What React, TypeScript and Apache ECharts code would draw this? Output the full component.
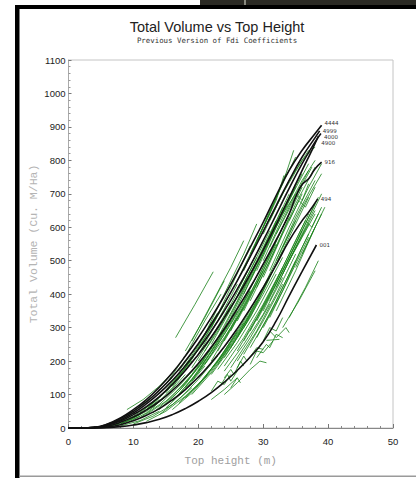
import React, { useEffect, useRef } from "react";
import * as echarts from "echarts";

const TITLE = "Total Volume vs Top Height";
const SUBTITLE = "Previous Version of Fdi Coefficients";
const X_NAME = "Top height (m)";
const Y_NAME = "Total Volume (Cu. M/Ha)";

const X_MIN = 0;
const X_MAX = 50;
const X_STEP = 10;
const Y_MIN = 0;
const Y_MAX = 1100;
const Y_STEP = 100;

// Black reference curves (Top height, Total volume)
const curveNames = ["4444", "4999", "4000", "4900", "916", "494", "001"];
const curveLabelOffsets = [-2, 0, 3, 7, 0, 0, 0];

const curve4444 = [[0,0],[2,0],[4,2],[6,12],[8,30],[10,55],[12,85],[14,122],[16,165],[18,215],[20,270],[22,330],[24,395],[26,465],[28,540],[30,615],[32,695],[34,770],[36,830],[38,880],[39,905]];
const curve4999 = [[0,0],[2,0],[4,2],[6,11],[8,28],[10,50],[12,78],[14,113],[16,153],[18,200],[20,252],[22,310],[24,372],[26,440],[28,512],[30,588],[32,665],[34,740],[36,810],[38,868],[38.7,888]];
const curve4000 = [[0,0],[2,0],[4,1],[6,9],[8,24],[10,45],[12,72],[14,104],[16,142],[18,186],[20,235],[22,290],[24,350],[26,415],[28,485],[30,560],[32,638],[34,716],[36,790],[38,855],[38.9,880]];
const curve4900 = [[0,0],[2,0],[4,1],[6,8],[8,21],[10,40],[12,64],[14,94],[16,130],[18,172],[20,220],[22,272],[24,330],[26,392],[28,460],[30,532],[32,608],[34,688],[36,770],[37.5,830],[38.5,872]];
const curve916 = [[0,0],[2,0],[4,1],[6,6],[8,17],[10,33],[12,54],[14,80],[16,112],[18,150],[20,193],[22,242],[24,296],[26,356],[28,420],[30,490],[32,562],[34,640],[35,690],[36,728],[37,745],[38,775],[39,795]];
const curve494 = [[0,0],[2,0],[4,0],[6,3],[8,10],[10,22],[12,38],[14,58],[16,84],[18,115],[20,152],[22,195],[24,243],[26,297],[28,357],[30,420],[32,488],[34,560],[36,620],[37,645],[38.4,685]];
const curve001 = [[0,0],[2,0],[4,0],[6,1],[8,4],[10,9],[12,16],[14,26],[16,40],[18,58],[20,80],[22,106],[24,137],[26,172],[28,212],[30,258],[32,320],[34,395],[36,468],[38.2,547]];

const blackCurves = [curve4444, curve4999, curve4000, curve4900, curve916, curve494, curve001];

// Green plot trajectories (Top height, Total volume)
const greenTrajectories = [
  [[7,10],[10,35],[13,75],[16,130]],
  [[8,12],[11,40],[14,85]],
  [[9,15],[12,45],[15,95],[18,160]],
  [[8,6],[11,22],[14,50]],
  [[10,12],[13,35],[16,70],[19,120]],
  [[11,30],[14,70],[17,125],[20,190]],
  [[12,20],[15,50],[18,95],[21,150]],
  [[12,55],[15,110],[18,180],[21,260]],
  [[13,60],[16,120],[19,200]],
  [[14,40],[17,85],[20,145],[23,215]],
  [[15,130],[18,215],[21,320],[23.5,400]],
  [[16.5,270],[19.5,370],[22.3,467]],
  [[18,230],[21,330],[24,440]],
  [[19,260],[22,370],[25,480],[27,560]],
  [[17,170],[20,250],[23,345]],
  [[20,220],[23,320],[26,430]],
  [[21,280],[24,400],[27,520],[29,610]],
  [[22,300],[25,420],[28,545]],
  [[27,470],[30,600],[33,730],[34.7,830]],
  [[26,440],[29,560],[32,680],[33.2,755]],
  [[28,520],[31,640],[33.5,760]],
  [[29,560],[32,690],[35,810]],
  [[30,580],[33,700],[36,800],[38,840]],
  [[31,620],[34,740],[37,830]],
  [[18,120],[21,190],[24,270],[27,360]],
  [[19,140],[22,220],[25,310],[28,410]],
  [[20,170],[23,260],[26,360]],
  [[21,190],[24,280],[27,380],[30,490]],
  [[22,200],[25,300],[28,410]],
  [[23,230],[26,330],[29,440],[32,560]],
  [[24,260],[27,360],[30,470]],
  [[25,290],[28,400],[31,520],[34,640]],
  [[23,190],[26,280],[29,380]],
  [[24,210],[27,300],[30,400],[33,510]],
  [[25,240],[28,340],[31,450]],
  [[26,270],[29,380],[32,500],[35,620]],
  [[27,300],[30,410],[33,530]],
  [[28,330],[31,450],[34,570],[37,690]],
  [[26,320],[29,430],[32,550]],
  [[27,350],[30,470],[33,600],[36,720]],
  [[28,380],[31,500],[34,630]],
  [[29,420],[32,540],[35,670],[38,780]],
  [[30,450],[33,580],[36,700]],
  [[31,470],[34,600],[37,720],[39,790]],
  [[32,500],[35,630],[38,740]],
  [[33,540],[36,660],[39,760]],
  [[20,130],[23,200],[26,290]],
  [[21,150],[24,230],[27,320],[30,420]],
  [[22,160],[25,240],[28,330]],
  [[24,170],[27,250],[30,340],[33,450]],
  [[25,180],[28,270],[31,370]],
  [[26,200],[29,290],[32,400],[35,520]],
  [[27,220],[30,320],[33,430]],
  [[28,240],[31,340],[34,460],[37,580]],
  [[29,270],[32,380],[35,500]],
  [[30,300],[33,410],[36,540],[38.5,640]],
  [[31,330],[34,450],[37,570]],
  [[32,350],[35,470],[38,600]],
  [[33,300],[35.5,380],[38,470]],
  [[34,330],[36.5,420],[38.5,500]],
  [[35,480],[37,560],[39,640]],
  [[36,520],[38,600],[39.5,660]],
  [[24,150],[25,175],[25.5,160],[26.5,200],[27,185]],
  [[26,180],[27,215],[27.5,200],[29,240],[30,235]],
  [[28,190],[29,230],[30,225],[31.5,260]],
  [[23.5,130],[24.5,160],[25,140],[26,170]],
  [[29,210],[30.5,250],[31,240],[32,280],[33,270]],
  [[25,120],[26,150],[26.5,135]],
  [[30,260],[31,300],[32,290],[33,330]],
  [[22,110],[23,140],[24,130],[25,160]],
  [[31,290],[32,270],[33.5,300],[34,285]],
  [[30.5,262],[32.5,265]],
  [[28,175],[29.5,200],[30.5,195]],
  [[33,640],[35,700],[36,680],[37,730]],
  [[34,620],[35.5,680],[36.5,660],[38,720]],
  [[35,560],[36.5,620],[37.5,600],[39,660]],
  [[5,2],[8,12],[11,35]],
  [[6,4],[9,20],[12,50],[15,95]],
  [[9,55],[11.5,85],[14,125],[16,165]],
  [[10,50],[13,95],[16,150]],
  [[13,45],[16,95],[19,160],[22,240]],
  [[14,55],[17,110],[20,180],[23,265]],
  [[15,70],[18,130],[21,210],[24,300]],
  [[16,80],[19,145],[22,230],[25,320]],
  [[17,100],[20,170],[23,255],[26,350]],
  [[15,60],[18,115],[21,185]],
  [[16,55],[19,105],[22,170],[25,250]],
  [[17,75],[20,130],[23,200],[26,285]],
  [[18,90],[21,150],[24,225],[27,315]],
  [[19,100],[22,165],[25,245],[28,340]],
  [[14,90],[17,160],[20,245],[23,340]],
  [[15,105],[18,180],[21,270],[24,370]],
  [[16,125],[19,205],[22,300],[25,405]],
  [[20,200],[23,290],[26,395],[29,510]],
  [[21,230],[24,330],[27,445],[30,560]],
  [[22,250],[25,355],[28,470],[31,590]],
  [[23,270],[26,380],[29,500],[32,620]],
  [[24,300],[27,415],[30,535],[33,660]],
  [[25,330],[28,450],[31,575],[34,700]],
  [[26,360],[29,485],[32,610],[35,730]],
  [[27,400],[30,520],[33,650],[36,760]],
  [[28,440],[31,560],[34,680],[37,790]],
  [[29,470],[32,600],[35,720]],
  [[30,500],[33,630],[36,740],[38,800]],
  [[31,540],[34,660],[37,770]],
  [[32,580],[35,690],[37.5,780]],
  [[23,175],[26,255],[29,350],[32,460]],
  [[24,185],[27,270],[30,370],[33,480]],
  [[26,230],[29,330],[32,440],[35,560]],
  [[27,260],[30,360],[33,470],[36,590]],
  [[28,290],[31,400],[34,520],[37,640]],
  [[29,320],[32,430],[35,550],[38,670]],
  [[30,350],[33,470],[36,590],[38.5,690]],
  [[31,380],[34,500],[37,610]],
  [[32,420],[35,540],[38,650]],
  [[33,460],[36,580],[39,700]],
  [[34,500],[36,570],[38,640]],
  [[19,180],[22,270],[25,370]],
  [[11,45],[14,90],[17,150]],
  [[12,40],[15,80],[18,135],[21,205]],
  [[22,85],[24,115],[26,150]],
  [[24,100],[26,135],[28,175]],
];

export default function App() {
  const ref = useRef<HTMLDivElement>(null);

  useEffect(() => {
    if (!ref.current) return;
    const chart = echarts.init(ref.current, null, { renderer: "svg" });

    const green = "rgba(25,130,25,0.8)";
    const greenSeries = greenTrajectories.map((pts, i) => ({
      type: "line",
      name: "plot" + i,
      data: pts,
      color: green,
      showSymbol: false,
      silent: true,
      z: 2,
      itemStyle: { color: green },
      lineStyle: { color: green, width: 1 },
    }));

    const blackSeries = blackCurves.map((pts, i) => ({
      type: "line",
      name: curveNames[i],
      data: pts,
      color: "#111",
      showSymbol: false,
      smooth: true,
      silent: true,
      z: 3,
      itemStyle: { color: "#111" },
      lineStyle: { color: "#111", width: 1.6 },
      endLabel: {
        show: true,
        formatter: curveNames[i],
        fontSize: 5.5,
        fontFamily: "DejaVu Sans",
        color: "#333",
        textBorderWidth: 0,
        distance: 3,
        offset: [0, curveLabelOffsets[i]],
      },
    }));

    chart.setOption({
      animation: false,
      backgroundColor: "#fff",
      title: [
        {
          text: TITLE,
          left: 212,
          top: 14,
          textAlign: "center",
          textStyle: { fontFamily: "Liberation Sans", fontSize: 14.5, fontWeight: "normal", color: "#222" },
        },
        {
          text: SUBTITLE,
          left: 212,
          top: 32,
          textAlign: "center",
          textStyle: { fontFamily: "DejaVu Sans Mono", fontSize: 7.4, fontWeight: "normal", color: "#333" },
        },
      ],
      grid: {
        left: 68.5,
        right: 23,
        top: 60,
        bottom: 50,
        show: true,
        borderColor: "#c4c4c4",
        borderWidth: 1,
      },
      xAxis: {
        type: "value",
        min: X_MIN,
        max: X_MAX,
        interval: X_STEP,
        name: X_NAME,
        nameLocation: "middle",
        nameGap: 27,
        nameTextStyle: { fontFamily: "Liberation Mono", fontSize: 11, color: "#a0a0a0" },
        axisLine: { lineStyle: { color: "#888", width: 1 } },
        axisTick: { show: true, inside: true, length: 4, lineStyle: { color: "#777" } },
        minorTick: { show: true, splitNumber: 5, length: 2, lineStyle: { color: "#888" } },
        axisLabel: { fontFamily: "Liberation Sans", fontSize: 9.5, color: "#222", margin: 8, formatter: (v: number) => String(v) },
        splitLine: { show: false },
      },
      yAxis: {
        type: "value",
        min: Y_MIN,
        max: Y_MAX,
        interval: Y_STEP,
        name: Y_NAME,
        nameLocation: "middle",
        nameGap: 29,
        nameRotate: 90,
        nameMoveOverlap: false,
        nameTextStyle: { fontFamily: "Liberation Mono", fontSize: 11.5, color: "#b4b4b4" },
        axisLine: { show: true, lineStyle: { color: "#aaa", width: 1 } },
        axisTick: { show: true, inside: true, length: 3, lineStyle: { color: "#777" } },
        minorTick: { show: true, splitNumber: 5, length: 2, lineStyle: { color: "#999" } },
        axisLabel: { fontFamily: "Liberation Sans", fontSize: 9.5, color: "#222", margin: 3, formatter: (v: number) => String(v) },
        splitLine: { show: false },
      },
      graphic: [
        { type: "rect", shape: { x: 200, y: 0, width: 216, height: 8 }, style: { fill: "#2b2a24" }, silent: true },
        { type: "rect", shape: { x: 244, y: 0, width: 2, height: 8 }, style: { fill: "#8a8a80" }, silent: true },
        { type: "rect", shape: { x: 15, y: 5, width: 401, height: 4 }, style: { fill: "#000" }, silent: true },
        { type: "rect", shape: { x: 15, y: 5, width: 4.5, height: 473 }, style: { fill: "#000" }, silent: true },
        { type: "rect", shape: { x: 19.5, y: 475.5, width: 396.5, height: 1.5 }, style: { fill: "#9a9a9a" }, silent: true },
      ],
      series: [...greenSeries, ...blackSeries],
    });

    return () => chart.dispose();
  }, []);

  return (
    <div
      ref={ref}
      style={{ position: "absolute", left: 0, top: 0, width: 416, height: 478 }}
    />
  );
}
